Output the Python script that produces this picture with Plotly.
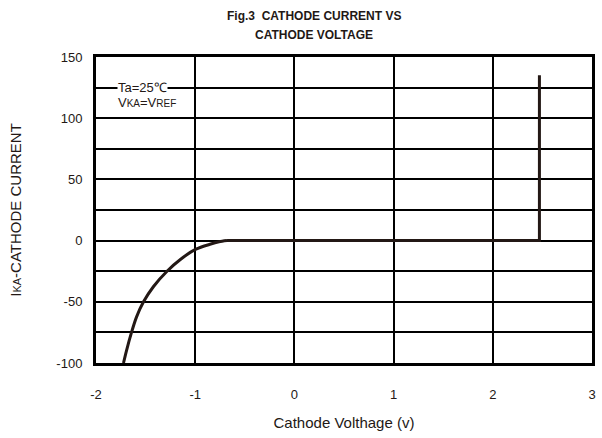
import plotly.graph_objects as go

# cathode voltage (V) vs cathode current
knee_v = [-1.723, -1.693, -1.642, -1.592, -1.521, -1.420, -1.284, -1.143, -0.992, -0.851, -0.760, -0.679]
knee_i = [-100, -90, -75, -62.5, -50, -37.5, -25, -15, -7, -3, -1, 0]
flat_v = [-0.679, 2.47, 2.47]
flat_i = [0, 0, 135]

x_ticks = [-2, -1, 0, 1, 2, 3]
x_labels = ["-2", "-1", "0", "1", "2", "3"]
y_ticks = [-100, -75, -50, -25, 0, 25, 50, 75, 100, 125, 150]
y_labels = ["-100", "", "-50", "", "0", "", "50", "", "100", "", "150"]

font = "Liberation Sans, Arial, sans-serif"
ink = "#231815"

fig = go.Figure()
fig.add_trace(go.Scatter(x=knee_v, y=knee_i, mode="lines", line=dict(color=ink, width=3, shape="spline", smoothing=0.8), hoverinfo="skip"))
fig.add_trace(go.Scatter(x=flat_v, y=flat_i, mode="lines", line=dict(color=ink, width=3), hoverinfo="skip"))

fig.update_layout(
    width=602,
    height=438,
    margin=dict(l=96, r=10, t=57, b=75),
    paper_bgcolor="white",
    plot_bgcolor="white",
    showlegend=False,
    font=dict(family=font, color=ink),
)

fig.update_xaxes(
    range=[-2, 3],
    tickvals=x_ticks,
    ticktext=x_labels,
    showgrid=True,
    gridcolor="black",
    gridwidth=2,
    zeroline=False,
    showline=True,
    linecolor="black",
    linewidth=3,
    mirror=True,
    ticks="",
    automargin=False,
    tickfont=dict(size=13, family=font, color=ink),
    ticklabelstandoff=17,
    title=dict(text="Cathode Volthage (v)", font=dict(size=15, family=font), standoff=17),
)

fig.update_yaxes(
    range=[-100, 150],
    tickvals=y_ticks,
    ticktext=y_labels,
    showgrid=True,
    gridcolor="black",
    gridwidth=2,
    zeroline=False,
    showline=True,
    linecolor="black",
    linewidth=3,
    mirror=True,
    ticks="",
    automargin=False,
    tickfont=dict(size=13, family=font, color=ink),
    ticklabelstandoff=8,
    title=dict(
        text="I<span style='font-size:11px'>KA</span>-CATHODE CURRENT",
        font=dict(size=15, family=font),
        standoff=32,
    ),
)

fig.add_annotation(
    text="<b>Fig.3  CATHODE CURRENT VS</b>",
    xref="paper", yref="paper", x=0.44, y=1.0, yshift=41,
    xanchor="center", yanchor="middle",
    showarrow=False, font=dict(size=12, family=font, color=ink),
)
fig.add_annotation(
    text="<b>CATHODE VOLTAGE</b>",
    xref="paper", yref="paper", x=0.44, y=1.0, yshift=22,
    xanchor="center", yanchor="middle",
    showarrow=False, font=dict(size=12, family=font, color=ink),
)

fig.add_annotation(
    text="Ta=25℃",
    x=-1.53, y=125, xref="x", yref="y",
    showarrow=False, bgcolor="white", borderpad=0,
    font=dict(size=13, family=font, color=ink),
)
fig.add_annotation(
    text="V<span style='font-size:10px'>KA</span>=V<span style='font-size:10px'>REF</span>",
    x=-1.49, y=113, xref="x", yref="y",
    showarrow=False,
    font=dict(size=13, family=font, color=ink),
)

# the page body has a default 8px margin; drop it so the figure fills the window
fig.write_html(
    "out.html",
    config={"displayModeBar": False},
    post_script="document.body.style.margin='0px';",
)
